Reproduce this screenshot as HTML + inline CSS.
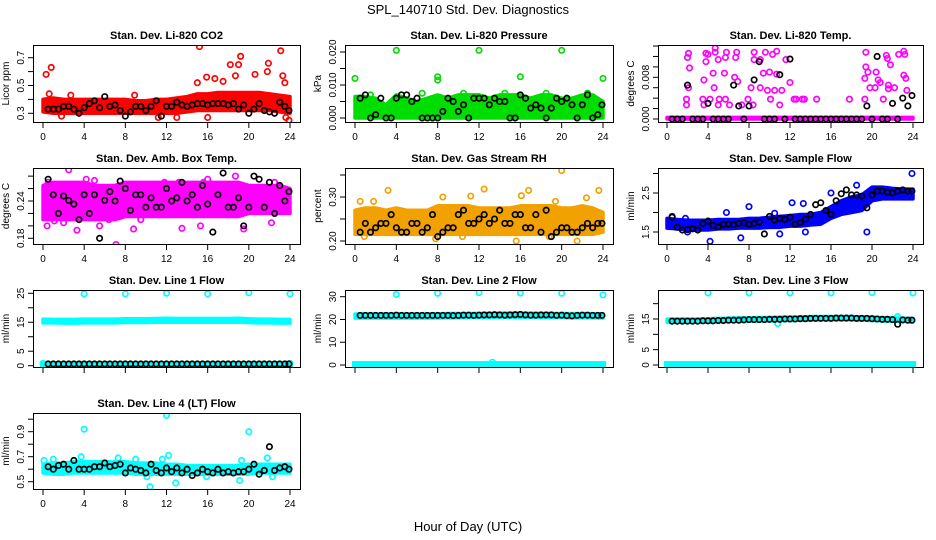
<!DOCTYPE html>
<html><head><meta charset="utf-8"><style>
body{margin:0;background:#fff;}
svg{display:block;font-family:"Liberation Sans",Arial,sans-serif;}
</style></head><body>
<svg id="c" width="936" height="540" viewBox="0 0 936 540">
<rect width="936" height="540" fill="#fff"/>
<text x="468" y="14" font-size="13" text-anchor="middle">SPL_140710  Std. Dev. Diagnostics</text>
<text x="468" y="531" font-size="13" text-anchor="middle">Hour of Day (UTC)</text>
</svg>
<script>
const hours = [0,1,2,3,4,5,6,7,8,9,10,11,12,13,14,15,16,17,18,19,20,21,22,23,24];
const blackHours = [0.5,1,1.5,2,2.5,3,3.5,4,4.5,5,5.5,6,6.5,7,7.5,8,8.5,9,9.5,10,10.5,11,11.5,12,12.5,13,13.5,14,14.5,15,15.5,16,16.5,17,17.5,18,18.5,19,19.5,20,20.5,21,21.5,22,22.5,23,23.5,23.9];
const xTicks = [0,4,8,12,16,20,24];

// CO2
const co2Lo = [0.31,0.3,0.3,0.3,0.3,0.3,0.3,0.3,0.3,0.3,0.3,0.3,0.3,0.3,0.31,0.32,0.32,0.32,0.32,0.32,0.32,0.32,0.32,0.31,0.3];
const co2Hi = [0.4,0.41,0.4,0.4,0.4,0.4,0.4,0.4,0.4,0.39,0.39,0.4,0.4,0.41,0.42,0.44,0.44,0.45,0.45,0.45,0.45,0.45,0.44,0.43,0.42];
const co2Black = [0.33,0.33,0.33,0.35,0.35,0.33,0.30,0.34,0.37,0.39,0.34,0.42,0.35,0.36,0.32,0.28,0.31,0.35,0.35,0.32,0.35,0.39,0.28,0.35,0.35,0.38,0.36,0.35,0.36,0.37,0.37,0.36,0.37,0.37,0.37,0.36,0.37,0.33,0.36,0.30,0.33,0.37,0.32,0.31,0.30,0.38,0.35,0.32];
const co2OutX = [0.3,0.8,0.6,2.7,8.9,15.2,15.9,16.7,18.2,18.7,19.0,19.2,20.6,21.8,21.9,23.1,23.3,23.5,23.9,15.0,17.5,16.0,13.0,23.6,1.8,11.2];
const co2OutY = [0.58,0.63,0.44,0.43,0.43,0.78,0.56,0.55,0.65,0.57,0.65,0.71,0.58,0.60,0.66,0.75,0.57,0.52,0.25,0.52,0.53,0.27,0.27,0.27,0.28,0.27];

// Pressure
const prLo = [0,0,0,0,0,0,0,0,0,0,0,0,0,0,0,0,0,0,0,0,0,0,0,0,0];
const prHi = [0.0065,0.0065,0.006,0.004,0.007,0.006,0.005,0.006,0.007,0.006,0.007,0.007,0.007,0.006,0.007,0.007,0.007,0.006,0.007,0.007,0.006,0.006,0.007,0.007,0.005];
const prBlack = [0.006,0.007,0,0.001,0.006,0,0,0.006,0.007,0.007,0.005,0.006,0,0,0,0,0.002,0.006,0.005,0.002,0.004,0,0.006,0.006,0.006,0.004,0.006,0.005,0.005,0,0,0.007,0.006,0.003,0.004,0.003,0,0.003,0.006,0.005,0.006,0.004,0,0.004,0.007,0,0.001,0.004];
const prOutX = [0,4,8,8,12,16,20,24,1.5,6.5,10.5,14.5,18.5,22.5];
const prOutY = [0.012,0.0205,0.0125,0.0115,0.0205,0.0125,0.0205,0.012,0.007,0.0075,0.0075,0.0075,0.0075,0.0075];

// Li-820 temp
const tLo = [0,0,0,0,0,0,0,0,0,0,0,0,0,0,0,0,0,0,0,0,0,0,0,0,0];
const tHi = [0.0003,0.0003,0.0003,0.0003,0.0003,0.0003,0.0003,0.0003,0.0003,0.0003,0.0003,0.0003,0.0003,0.0003,0.0003,0.0003,0.0003,0.0003,0.0003,0.0003,0.0003,0.0003,0.0003,0.0003,0.0003];
const tBlack = [0,0,0,0.0065,0,0,0,0.003,0,0,0,0,0.0065,0.0025,0,0.0025,0.0075,0.011,0,0,0,0.0085,0,0.0115,0,0,0,0,0,0,0,0,0,0,0,0,0,0,0.0025,0,0.012,0,0,0.003,0,0.004,0.0025,0.0045];
const tOutX = [1.9,1.9,2.0,2.1,2.0,2.1,2.2,3.6,3.5,3.6,3.8,3.8,4.0,4.2,4.6,4.5,4.7,4.7,5.1,5.0,5.0,5.6,5.7,5.8,5.7,6.1,6.6,6.8,6.7,6.9,7.3,7.9,8.2,8.5,8.5,8.4,9.1,9.1,9.4,9.6,9.8,10.0,10.1,10.3,10.5,10.7,10.7,11.0,11.2,11.6,12.0,12.4,13.2,14.6,17.8,19.3,19.4,19.4,19.6,19.8,20.3,20.4,20.6,20.8,21.4,21.5,21.8,21.6,21.6,22.2,22.6,23.1,23.2,23.1,23.3,23.4,19.3,21.1,12.6,13.4];
const tOutY = [0.0027,0.0038,0.0065,0.0060,0.0118,0.0126,0.0098,0.0027,0.0038,0.0075,0.0126,0.0110,0.0124,0.0038,0.0060,0.0088,0.0136,0.0128,0.0038,0.0027,0.0114,0.0088,0.0038,0.0128,0.0118,0.0027,0.0080,0.0128,0.0118,0.0072,0.0027,0.0038,0.0060,0.0128,0.0114,0.0027,0.0060,0.0114,0.0088,0.0128,0.0055,0.0090,0.0038,0.0124,0.0055,0.0130,0.0086,0.0027,0.0055,0.0114,0.0070,0.0038,0.0038,0.0038,0.0038,0.0038,0.0128,0.0100,0.0090,0.0060,0.0060,0.0090,0.0075,0.0070,0.0122,0.0116,0.0104,0.0065,0.0058,0.0060,0.0124,0.0130,0.0124,0.0084,0.0078,0.0055,0.0078,0.0038,0.0038,0.0038];

// Amb box temp
const aLo = [0.21,0.21,0.21,0.21,0.21,0.21,0.21,0.21,0.215,0.215,0.215,0.215,0.215,0.215,0.215,0.215,0.215,0.215,0.215,0.215,0.22,0.22,0.22,0.22,0.22];
const aHi = [0.265,0.27,0.27,0.27,0.27,0.265,0.265,0.265,0.27,0.27,0.27,0.27,0.27,0.27,0.27,0.27,0.27,0.27,0.27,0.27,0.265,0.265,0.265,0.265,0.26];
const aBlack = [0.275,0.25,0.22,0.248,0.241,0.235,0.21,0.25,0.22,0.25,0.18,0.241,0.255,0.24,0.272,0.26,0.225,0.25,0.25,0.23,0.245,0.23,0.23,0.26,0.24,0.245,0.27,0.24,0.25,0.23,0.265,0.235,0.19,0.25,0.285,0.23,0.23,0.245,0.2,0.23,0.28,0.275,0.23,0.27,0.22,0.265,0.24,0.255];
const aOutX = [2.5,4.2,5.0,0.4,1.1,3.3,5.5,7.1,8.8,6.4,13.5,15.3,19.5,22.2,16.0,18.7,0.5,22.5,11.8,13.2,15.6,2.0,9.5];
const aOutY = [0.29,0.275,0.273,0.20,0.208,0.193,0.20,0.17,0.195,0.21,0.196,0.20,0.195,0.205,0.275,0.28,0.27,0.27,0.27,0.27,0.27,0.205,0.21];

// Gas stream RH
const gLo = [0.215,0.215,0.215,0.215,0.215,0.215,0.215,0.215,0.215,0.215,0.215,0.215,0.215,0.215,0.215,0.215,0.215,0.215,0.215,0.215,0.215,0.215,0.215,0.215,0.22];
const gHi = [0.27,0.275,0.275,0.27,0.275,0.27,0.27,0.27,0.28,0.28,0.28,0.28,0.275,0.275,0.275,0.275,0.28,0.28,0.28,0.28,0.275,0.275,0.28,0.275,0.265];
const gBlack = [0.22,0.24,0.22,0.23,0.24,0.24,0.26,0.23,0.22,0.22,0.24,0.24,0.22,0.23,0.26,0.21,0.22,0.23,0.23,0.26,0.27,0.24,0.24,0.25,0.26,0.24,0.25,0.27,0.24,0.24,0.26,0.26,0.23,0.23,0.26,0.22,0.27,0.21,0.22,0.23,0.23,0.22,0.22,0.23,0.24,0.23,0.24,0.24];
const gOutX = [3.2,12.5,16.8,23.6,20.0,15.6,21.5,0.5,11.2,19.4,22.4,16.1,8.5,1.8,0.9,7.8,18.8,10.4];
const gOutY = [0.315,0.318,0.315,0.315,0.36,0.20,0.20,0.29,0.302,0.29,0.298,0.303,0.30,0.29,0.21,0.205,0.21,0.21];

// Sample flow
const sLo = [1.6,1.58,1.55,1.55,1.55,1.58,1.58,1.6,1.6,1.6,1.62,1.62,1.65,1.65,1.68,1.7,1.85,1.95,2.0,2.05,2.3,2.35,2.35,2.35,2.35];
const sHi = [1.85,1.82,1.8,1.8,1.8,1.82,1.82,1.82,1.85,1.85,1.88,1.9,1.92,1.95,1.95,2.0,2.15,2.3,2.4,2.45,2.65,2.65,2.62,2.6,2.6];
const sBlack = [1.88,1.62,1.55,1.56,1.58,1.55,1.72,1.78,1.67,1.63,1.7,1.7,1.69,1.72,1.73,1.7,1.72,1.75,1.45,1.9,1.8,1.85,1.82,1.88,1.7,1.74,1.83,1.95,2.2,2.25,2.05,1.95,2.3,2.48,2.58,2.45,2.45,2.42,2.12,2.45,2.55,2.55,2.52,2.5,2.55,2.58,2.55,2.55];
const sOutX = [4.2,7.2,19.5,23.9,12.2,13.3,8.0,16.0,18.5,11.0,0.5,1.8,5.8,10.5,13.5,2.0];
const sOutY = [1.26,1.35,1.5,3.0,2.25,2.23,2.15,2.5,2.7,1.45,1.9,1.85,2.0,1.98,1.5,1.5];

// Line 1
const l1Lo = [14.8,14.8,14.7,14.7,14.8,14.8,14.8,14.8,14.9,14.9,14.9,15.0,15.0,15.0,15.0,15.0,15.0,15.0,15.0,15.0,14.9,14.8,14.8,14.7,14.7];
const l1Hi = [16.1,16.0,16.0,16.0,16.1,16.1,16.1,16.1,16.2,16.2,16.2,16.3,16.4,16.3,16.3,16.3,16.3,16.3,16.3,16.4,16.2,16.1,16.1,16.0,16.0];
const l1Black = [0.6,0.6,0.6,0.6,0.6,0.6,0.6,0.6,0.6,0.6,0.6,0.6,0.6,0.6,0.6,0.6,0.6,0.6,0.6,0.6,0.6,0.6,0.6,0.6,0.6,0.6,0.6,0.6,0.6,0.6,0.6,0.6,0.6,0.6,0.6,0.6,0.6,0.6,0.6,0.6,0.6,0.6,0.6,0.6,0.6,0.6,0.6,0.6];
const l1OutX = [4,8,12,16,20,24,0,24];
const l1OutY = [24.8,24.8,25,24.8,25.2,24.8,0.8,0.8];

// Line 2
const l2Lo = [20.6,20.6,20.6,20.6,20.6,20.6,20.6,20.6,20.6,20.7,20.7,20.8,20.8,20.8,20.9,20.9,21.0,20.9,20.8,20.8,20.8,20.7,20.7,20.7,20.6];
const l2Hi = [22.4,22.4,22.4,22.4,22.4,22.4,22.4,22.4,22.5,22.6,22.6,22.6,22.7,22.7,22.8,22.8,22.8,22.8,22.7,22.7,22.6,22.6,22.6,22.5,22.4];
const l2Black = [21.8,21.8,21.8,21.8,21.8,21.8,21.8,21.9,21.8,21.8,21.8,21.8,21.8,21.8,21.8,21.8,21.8,21.8,21.7,21.8,21.9,21.9,21.8,21.9,22.0,22.0,22.1,22.0,21.9,22.0,22.1,22.2,22.0,21.9,21.9,22.0,22.0,22.0,21.8,21.9,21.7,21.6,21.8,21.9,21.9,21.8,21.8,21.8];
const l2OutX = [4,8,12,16,20,24,13.3];
const l2OutY = [31.0,31.5,31.8,31.6,31.5,30.8,1.2];

// Line 3
const l3Lo = [13.9,13.9,13.9,14.0,14.0,14.1,14.2,14.3,14.3,14.4,14.4,14.5,14.5,14.6,14.6,14.7,14.7,14.7,14.7,14.6,14.5,14.4,14.3,14.2,14.2];
const l3Hi = [15.0,15.0,15.0,15.0,15.1,15.2,15.3,15.4,15.4,15.5,15.5,15.6,15.7,15.7,15.8,15.8,15.8,15.8,15.8,15.7,15.6,15.5,15.4,15.3,15.2];
const l3Black = [14.3,14.3,14.3,14.3,14.3,14.3,14.4,14.4,14.4,14.5,14.5,14.6,14.6,14.6,14.7,14.8,14.8,14.8,14.8,14.9,14.9,14.9,15.0,15.0,15.0,15.1,15.1,15.2,15.2,15.2,15.2,15.2,15.3,15.3,15.3,15.3,15.2,15.2,15.2,15.1,15.0,14.9,14.9,14.8,13.3,14.7,14.6,14.6];
const l3OutX = [4,8,12,16,20,24,10.8,22.5];
const l3OutY = [23.5,23.5,23.5,23.5,23.6,23.5,13.5,15.8];

// Line 4
const l4Lo = [0.57,0.56,0.56,0.57,0.57,0.57,0.57,0.57,0.57,0.56,0.56,0.56,0.56,0.56,0.56,0.56,0.56,0.56,0.56,0.56,0.56,0.57,0.57,0.57,0.57];
const l4Hi = [0.64,0.65,0.65,0.66,0.66,0.66,0.66,0.66,0.66,0.65,0.65,0.65,0.64,0.64,0.63,0.63,0.63,0.63,0.63,0.63,0.64,0.64,0.64,0.64,0.64];
const l4Black = [0.62,0.6,0.63,0.64,0.6,0.67,0.6,0.6,0.6,0.62,0.62,0.65,0.62,0.63,0.64,0.57,0.61,0.6,0.59,0.57,0.64,0.59,0.57,0.61,0.58,0.61,0.57,0.6,0.55,0.57,0.6,0.58,0.57,0.6,0.57,0.58,0.57,0.58,0.58,0.6,0.64,0.56,0.59,0.78,0.59,0.61,0.62,0.6];
const l4OutX = [4,12,20,1.0,0.1,3.7,7.3,9.0,11.6,12.2,19.3,21.8,10.4,12.9,19.1,10.1,22.3,15.9];
const l4OutY = [0.92,1.03,0.9,0.68,0.67,0.7,0.69,0.68,0.68,0.71,0.67,0.69,0.46,0.49,0.51,0.54,0.54,0.54];

// layout config
const COLS = [[33,300,43,290],[345,613,355,603],[658,923,667,913]];
const ROWS = [[45,122],[168,244],[290,367],[413,489]];
const panels = [
 {name:'co2',title:'Stan. Dev. Li-820 CO2',ylab:'Licor ppm',c:0,r:0,col:'#ff0000',v0:0.3,p0:113.3,v1:0.7,p1:57.7,ticks:[0.3,0.4,0.5,0.6,0.7],labels:[0.3,0.5,0.7],dec:1,lo:co2Lo,hi:co2Hi,bk:co2Black,ox:co2OutX,oy:co2OutY,xl:true},
 {name:'pressure',title:'Stan. Dev. Li-820 Pressure',ylab:'kPa',c:1,r:0,col:'#00dd00',v0:0,p0:118,v1:0.02,p1:52,ticks:[0,0.005,0.01,0.015,0.02],labels:[0,0.01,0.02],dec:3,lo:prLo,hi:prHi,bk:prBlack,ox:prOutX,oy:prOutY,xl:true},
 {name:'li820-temp',title:'Stan. Dev. Li-820 Temp.',ylab:'degrees C',c:2,r:0,col:'#ff00ff',v0:0,p0:119,v1:0.008,p1:77.3,ticks:[0,0.002,0.004,0.006,0.008,0.010,0.012,0.014],labels:[0,0.008],dec:3,lo:tLo,hi:tHi,bk:tBlack,ox:tOutX,oy:tOutY,xl:true},
 {name:'amb-box-temp',title:'Stan. Dev. Amb. Box Temp.',ylab:'degrees C',c:0,r:1,col:'#ff00ff',v0:0.18,p0:238.3,v1:0.24,p1:201,ticks:[0.18,0.2,0.22,0.24,0.26,0.28],labels:[0.18,0.24],dec:2,lo:aLo,hi:aHi,bk:aBlack,ox:aOutX,oy:aOutY,xl:true},
 {name:'gas-rh',title:'Stan. Dev. Gas Stream RH',ylab:'percent',c:1,r:1,col:'#f2a200',v0:0.2,p0:241,v1:0.3,p1:197,ticks:[0.2,0.25,0.3,0.35],labels:[0.2,0.3],dec:2,lo:gLo,hi:gHi,bk:gBlack,ox:gOutX,oy:gOutY,xl:true},
 {name:'sample-flow',title:'Stan. Dev. Sample Flow',ylab:'ml/min',c:2,r:1,col:'#0000ff',v0:1.5,p0:232,v1:2.5,p1:193,ticks:[1.5,2,2.5,3],labels:[1.5,2.5],dec:1,lo:sLo,hi:sHi,bk:sBlack,ox:sOutX,oy:sOutY,xl:true},
 {name:'line1-flow',title:'Stan. Dev. Line 1 Flow',ylab:'ml/min',c:0,r:2,col:'#00ffff',v0:0,p0:365.7,v1:25,p1:293.3,ticks:[0,5,10,15,20,25],labels:[0,5,15,25],dec:0,lo:l1Lo,hi:l1Hi,bk:l1Black,ox:l1OutX,oy:l1OutY,xl:false,base:true},
 {name:'line2-flow',title:'Stan. Dev. Line 2 Flow',ylab:'ml/min',c:1,r:2,col:'#00ffff',v0:0,p0:365,v1:30,p1:296.7,ticks:[0,10,20,30],labels:[0,10,20,30],dec:0,lo:l2Lo,hi:l2Hi,bk:l2Black,ox:l2OutX,oy:l2OutY,xl:false,base:true},
 {name:'line3-flow',title:'Stan. Dev. Line 3 Flow',ylab:'ml/min',c:2,r:2,col:'#00ffff',v0:0,p0:365,v1:15,p1:319,ticks:[0,5,10,15,20],labels:[0,5,15],dec:0,lo:l3Lo,hi:l3Hi,bk:l3Black,ox:l3OutX,oy:l3OutY,xl:false,base:true},
 {name:'line4-flow',title:'Stan. Dev. Line 4 (LT) Flow',ylab:'ml/min',c:0,r:3,col:'#00ffff',v0:0.5,p0:481.7,v1:0.9,p1:431.7,ticks:[0.5,0.6,0.7,0.8,0.9,1.0],labels:[0.5,0.7,0.9],dec:1,lo:l4Lo,hi:l4Hi,bk:l4Black,ox:l4OutX,oy:l4OutY,xl:true}
];
const NS='http://www.w3.org/2000/svg';
const svg=document.getElementById('c');
function mk(tag,attrs,parent){const e=document.createElementNS(NS,tag);for(const k in attrs)e.setAttribute(k,attrs[k]);(parent||svg).appendChild(e);return e;}
panels.forEach(p=>{
  const [L,R,x0,x24]=COLS[p.c]; const [T,B]=ROWS[p.r];
  const xs=h=>x0+(x24-x0)*h/24;
  const ys=v=>p.p0+(p.p1-p.p0)*(v-p.v0)/(p.v1-p.v0);
  const g=mk('g',{});
  
  
  const clipId='clip-'+p.name;
  const cp=mk('clipPath',{id:clipId},g); mk('rect',{x:L,y:T,width:R-L,height:B-T},cp);
  const plot=mk('g',{'clip-path':'url(#'+clipId+')'},g);
  let pts=hours.map((h,i)=>xs(h)+','+ys(p.hi[i]));
  pts=pts.concat(hours.slice().reverse().map((h,j)=>{const i=hours.length-1-j;return xs(h)+','+ys(p.lo[i]);}));
  const band=mk('polygon',{points:pts.join(' '),fill:p.col,stroke:p.col,'stroke-width':3.5,'stroke-linejoin':'round'},plot);
  
  
  if(p.base){
    const bl=mk('rect',{x:xs(0)-3,y:ys(0)-4,width:xs(24)-xs(0)+6,height:6,fill:p.col},plot);
    
    
  }
  p.ox.forEach((h,i)=>{
    const c=mk('circle',{cx:xs(h),cy:ys(p.oy[i]),r:2.7,fill:'none',stroke:p.col,'stroke-width':1.7},plot);
    
    
  });
  blackHours.forEach((h,i)=>{
    const c=mk('circle',{cx:xs(h),cy:ys(p.bk[i]),r:2.7,fill:'none',stroke:'#000','stroke-width':1.7},plot);
    
    
  });
  const box=mk('rect',{x:L+0.5,y:T+0.5,width:R-L,height:B-T,fill:'none',stroke:'#000','stroke-width':1},g);
  
  
  const t=mk('text',{x:(L+R)/2,y:T-6,'font-size':11,'font-weight':'bold','text-anchor':'middle'},g);
  t.textContent=p.title;
  
  
  xTicks.forEach(h=>{
    mk('line',{x1:xs(h),x2:xs(h),y1:B+1,y2:B+6,stroke:'#000'},g);
    if(p.xl){const tl=mk('text',{x:xs(h),y:B+18,'font-size':10,'text-anchor':'middle'},g);tl.textContent=h;
      
      }
  });
  p.ticks.forEach(v=>{mk('line',{x1:L-5,x2:L,y1:ys(v),y2:ys(v),stroke:'#000'},g);});
  p.labels.forEach(v=>{
    const y=ys(v);const tl=mk('text',{x:L-9,y:y,'font-size':10,'text-anchor':'middle',transform:`rotate(-90 ${L-9} ${y})`},g);
    tl.textContent=v.toFixed(p.dec);
    
    
  });
  const ym=(T+B)/2;
  const yl=mk('text',{x:L-24,y:ym,'font-size':10,'text-anchor':'middle',transform:`rotate(-90 ${L-24} ${ym})`},g);
  yl.textContent=p.ylab;
  
  
});
</script>
</body></html>
